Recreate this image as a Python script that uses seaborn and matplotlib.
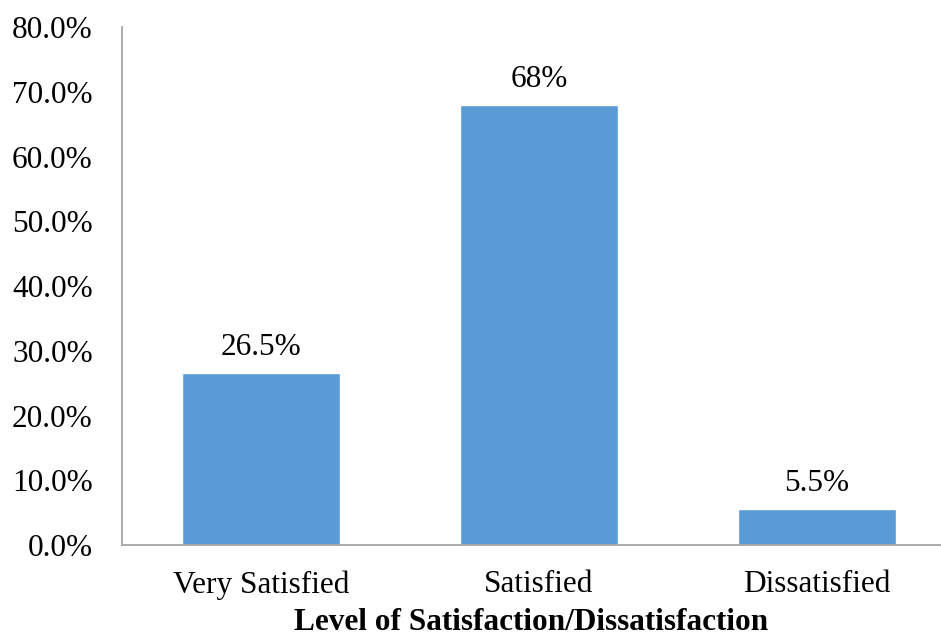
import numpy as np
import pandas as pd
import matplotlib
matplotlib.use("Agg")
import matplotlib.pyplot as plt
import seaborn as sns

# data
levels = ["Very Satisfied", "Satisfied", "Dissatisfied"]
share = [26.5, 68.0, 5.5]
bar_labels = ["26.5%", "68%", "5.5%"]
yticks = [0, 10, 20, 30, 40, 50, 60, 70, 80]

sns.set_theme(style="white")
plt.rcParams["font.family"] = ["Liberation Serif", "DejaVu Serif"]

df = pd.DataFrame({"level": levels, "share": share})

fig = plt.figure(figsize=(9.41, 6.37), dpi=100)
ax = fig.add_axes([0.1296, 0.1444, 0.8704, 0.8130])

sns.barplot(data=df, x="level", y="share", color="#5B9BD5", saturation=1,
            width=0.57, ax=ax)

for i, (v, lab) in enumerate(zip(share, bar_labels)):
    ax.annotate(lab, (i, v), xytext=(0, 8), textcoords="offset points",
                ha="center", va="bottom", fontsize=22.5, color="black")

ax.set_ylim(0, 80)
ax.set_xlim(-0.5, 2.446)
ax.set_yticks(yticks)
ax.set_yticklabels([f"{t:.1f}%" for t in yticks], fontsize=22.5, color="black")
ax.tick_params(axis="x", labelsize=22.5, colors="black", pad=18, length=0)
ax.tick_params(axis="y", pad=21, length=0)
ax.set_ylabel("")
ax.set_xlabel("Level of Satisfaction/Dissatisfaction", fontsize=22.5,
              fontweight="bold", color="black", labelpad=6)

for side in ["top", "right"]:
    ax.spines[side].set_visible(False)
for side in ["left", "bottom"]:
    ax.spines[side].set_color("#A6A6A6")
    ax.spines[side].set_linewidth(1.3)

fig.savefig("out.png", dpi=100)
